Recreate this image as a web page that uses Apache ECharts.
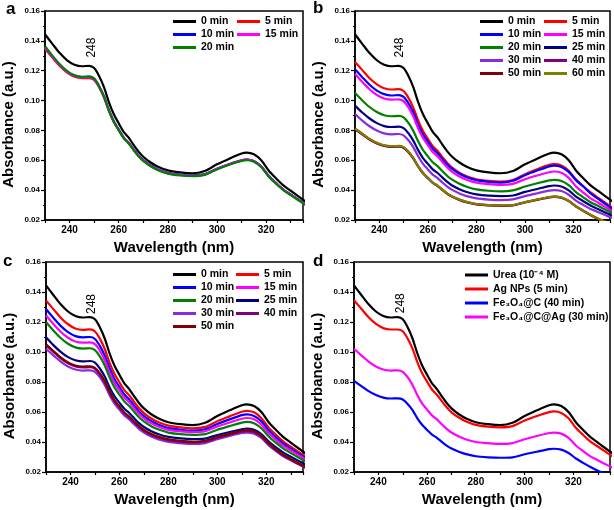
<!DOCTYPE html>
<html><head><meta charset="utf-8">
<script src="https://cdn.jsdelivr.net/npm/echarts@6/dist/echarts.min.js"></script>
<style>html,body{margin:0;padding:0;background:#fff}#c{width:614px;height:510px}</style>
</head><body><div id="c"></div><script>
// ---------- data (nm, absorbance a.u.) ----------
const wavelengths = [230,233,236,239,242,245,248,250,252,254,256,258,260,262,264,266,268,270,273,276,280,285,290,295,300,305,310,312,315,318,321,324,327,330,333,336];

const urea0 = [.1444,.1380,.1318,.1270,.1240,.1230,.1233,.1218,.1165,.1090,.0990,.0908,.0848,.0791,.0753,.0705,.0660,.0624,.0585,.0557,.0532,.0519,.0513,.0528,.0573,.0611,.0645,.0651,.0640,.0600,.0532,.0480,.0432,.0396,.0360,.0325];

// panel a
const a5  = [.1345,.1288,.1231,.1187,.1159,.1150,.1150,.1138,.1090,.1022,.0931,.0857,.0802,.0750,.0715,.0672,.0631,.0598,.0563,.0537,.0514,.0502,.0498,.0506,.0543,.0573,.0599,.0604,.0594,.0558,.0495,.0447,.0403,.0370,.0337,.0304];
const a10 = [.1358,.1296,.1239,.1194,.1167,.1158,.1160,.1147,.1098,.1029,.0937,.0862,.0807,.0754,.0719,.0675,.0634,.0601,.0565,.0539,.0516,.0504,.0499,.0507,.0544,.0574,.0600,.0605,.0595,.0559,.0496,.0448,.0404,.0371,.0338,.0306];
const a15 = [.1355,.1293,.1236,.1191,.1164,.1155,.1157,.1144,.1095,.1026,.0934,.0859,.0804,.0752,.0717,.0673,.0632,.0599,.0563,.0537,.0514,.0502,.0497,.0505,.0542,.0573,.0599,.0604,.0594,.0558,.0495,.0447,.0403,.0370,.0337,.0304];
const a20 = [.1364,.1301,.1243,.1197,.1169,.1159,.1160,.1146,.1096,.1026,.0934,.0858,.0802,.0749,.0714,.0670,.0629,.0596,.0560,.0534,.0511,.0499,.0494,.0502,.0539,.0570,.0596,.0601,.0591,.0555,.0492,.0444,.0400,.0367,.0334,.0301];

// panel b
const b5  = [.1259,.1204,.1150,.1109,.1083,.1074,.1077,.1064,.1018,.0953,.0867,.0796,.0744,.0695,.0662,.0621,.0582,.0551,.0517,.0493,.0473,.0462,.0457,.0468,.0507,.0540,.0569,.0574,.0565,.0530,.0471,.0426,.0385,.0350,.0316,.0282];
const b10 = [.1209,.1157,.1106,.1067,.1043,.1034,.1037,.1025,.0982,.0921,.0839,.0773,.0724,.0677,.0647,.0607,.0571,.0542,.0510,.0487,.0467,.0456,.0451,.0463,.0500,.0531,.0559,.0564,.0555,.0522,.0467,.0424,.0378,.0343,.0308,.0272];
const b15 = [.1178,.1125,.1076,.1037,.1014,.1006,.1008,.0996,.0954,.0894,.0815,.0749,.0702,.0656,.0626,.0588,.0552,.0523,.0492,.0470,.0450,.0440,.0435,.0442,.0473,.0498,.0520,.0525,.0516,.0482,.0425,.0384,.0345,.0317,.0288,.0260];
const b20 = [.1050,.1001,.0957,.0923,.0902,.0895,.0897,.0887,.0850,.0797,.0727,.0669,.0627,.0587,.0561,.0527,.0495,.0470,.0443,.0423,.0405,.0396,.0392,.0398,.0424,.0446,.0465,.0469,.0461,.0433,.0387,.0352,.0319,.0295,.0270,.0245];
const b25 = [.0966,.0920,.0880,.0849,.0829,.0823,.0825,.0815,.0781,.0732,.0668,.0615,.0576,.0539,.0515,.0484,.0455,.0431,.0406,.0388,.0372,.0363,.0360,.0364,.0388,.0408,.0427,.0431,.0424,.0398,.0357,.0326,.0297,.0274,.0251,.0228];
const b30 = [.0912,.0866,.0828,.0799,.0780,.0774,.0776,.0767,.0734,.0688,.0627,.0576,.0539,.0504,.0481,.0451,.0424,.0402,.0378,.0360,.0345,.0337,.0333,.0338,.0360,.0379,.0397,.0400,.0394,.0369,.0330,.0301,.0274,.0254,.0233,.0213];
const b40 = [.0808,.0773,.0739,.0713,.0696,.0690,.0691,.0683,.0654,.0613,.0558,.0513,.0480,.0449,.0428,.0401,.0376,.0356,.0335,.0319,.0305,.0298,.0295,.0298,.0318,.0335,.0352,.0355,.0349,.0327,.0290,.0261,.0233,.0208,.0188,.0170];
const b50 = [.0811,.0776,.0741,.0715,.0698,.0693,.0694,.0686,.0656,.0615,.0560,.0515,.0482,.0450,.0429,.0402,.0377,.0357,.0336,.0320,.0306,.0299,.0296,.0299,.0319,.0336,.0353,.0356,.0350,.0328,.0291,.0262,.0234,.0209,.0189,.0171];
const b60 = [.0813,.0778,.0743,.0717,.0700,.0695,.0696,.0688,.0658,.0617,.0561,.0516,.0483,.0451,.0430,.0403,.0378,.0358,.0337,.0321,.0307,.0300,.0297,.0300,.0320,.0337,.0354,.0357,.0351,.0329,.0292,.0263,.0235,.0210,.0190,.0172];

// panel c
const c5  = [.1344,.1286,.1229,.1185,.1157,.1148,.1151,.1137,.1089,.1020,.0928,.0853,.0798,.0746,.0711,.0667,.0626,.0593,.0557,.0531,.0509,.0497,.0491,.0501,.0539,.0571,.0602,.0608,.0598,.0559,.0496,.0447,.0402,.0369,.0336,.0304];
const c10 = [.1287,.1228,.1174,.1132,.1106,.1098,.1100,.1087,.1041,.0976,.0890,.0819,.0767,.0717,.0684,.0643,.0604,.0573,.0539,.0515,.0493,.0482,.0476,.0485,.0520,.0551,.0579,.0584,.0574,.0538,.0477,.0431,.0388,.0356,.0324,.0294];
const c15 = [.1245,.1186,.1135,.1095,.1070,.1062,.1064,.1052,.1008,.0945,.0862,.0794,.0744,.0697,.0665,.0625,.0588,.0558,.0525,.0502,.0481,.0471,.0466,.0472,.0503,.0530,.0555,.0560,.0551,.0516,.0458,.0414,.0374,.0344,.0314,.0285];
const c20 = [.1200,.1143,.1093,.1055,.1031,.1023,.1025,.1013,.0971,.0910,.0830,.0764,.0716,.0671,.0640,.0602,.0565,.0537,.0505,.0483,.0463,.0452,.0448,.0453,.0482,.0506,.0529,.0534,.0525,.0492,.0437,.0394,.0356,.0327,.0298,.0270];
const c25 = [.1098,.1046,.1001,.0966,.0945,.0937,.0940,.0929,.0890,.0836,.0764,.0705,.0662,.0621,.0593,.0559,.0526,.0500,.0472,.0452,.0434,.0424,.0420,.0423,.0447,.0467,.0485,.0490,.0482,.0453,.0403,.0364,.0329,.0302,.0276,.0250];
const c30 = [.1021,.0978,.0936,.0903,.0883,.0876,.0878,.0868,.0832,.0780,.0712,.0656,.0616,.0577,.0551,.0518,.0488,.0463,.0436,.0417,.0400,.0392,.0387,.0393,.0418,.0440,.0460,.0463,.0456,.0427,.0377,.0339,.0304,.0278,.0253,.0229];
const c40 = [.1046,.1001,.0958,.0924,.0904,.0897,.0899,.0888,.0851,.0799,.0729,.0672,.0631,.0591,.0564,.0531,.0500,.0475,.0447,.0428,.0411,.0401,.0397,.0402,.0427,.0448,.0469,.0473,.0466,.0436,.0385,.0344,.0308,.0281,.0255,.0229];
const c50 = [.1052,.1007,.0964,.0930,.0910,.0903,.0905,.0894,.0857,.0805,.0735,.0678,.0637,.0597,.0570,.0537,.0506,.0481,.0453,.0434,.0417,.0407,.0403,.0408,.0433,.0454,.0475,.0479,.0472,.0442,.0391,.0350,.0314,.0287,.0261,.0235];

const timeNames = ['0 min','5 min','10 min','15 min','20 min','25 min','30 min','40 min','50 min','60 min'];
const dNames = ['Urea (10\u207B\u2074 M)','Ag NPs (5 min)','Fe\u2083O\u2084@C (40 min)','Fe\u2083O\u2084@C@Ag (30 min)'];
const xTicks = [240,260,280,300,320];
const peakText = '248';

// ---------- styling ----------
const FONT = 'Arial, "Liberation Sans", sans-serif';
const COLORS = {'0 min':'#000000','5 min':'#ff0000','10 min':'#0000ff','15 min':'#ff00ff','20 min':'#008000',
  '25 min':'#000080','30 min':'#8a2be2','40 min':'#800080','50 min':'#800000','60 min':'#808000'};
const dColors = ['#000000','#ff0000','#0000ff','#ff00ff'];

const panels = [
  {grid:{left:45,top:11,width:258,height:209}, series:[['0 min',urea0],['5 min',a5],['10 min',a10],['15 min',a15],['20 min',a20]], peak:[248.9,0.1355], letter:['a',6,10]},
  {grid:{left:355,top:11,width:255,height:209}, series:[['0 min',urea0],['5 min',b5],['10 min',b10],['15 min',b15],['20 min',b20],['25 min',b25],['30 min',b30],['40 min',b40],['50 min',b50],['60 min',b60]], peak:[248.6,0.1355], letter:['b',313,9]},
  {grid:{left:46,top:262,width:257,height:210}, series:[['0 min',urea0],['5 min',c5],['10 min',c10],['15 min',c15],['20 min',c20],['25 min',c25],['30 min',c30],['40 min',c40],['50 min',c50]], peak:[248.7,0.132], letter:['c',3,262]},
  {grid:{left:354,top:262,width:256,height:210}, series:[[dNames[0],urea0],[dNames[1],a5],[dNames[2],b40],[dNames[3],c30]], peak:[249,0.1325], letter:['d',313,262]}
];

const grid=[], xAxis=[], yAxis=[], series=[], graphic=[];
panels.forEach((p,i)=>{
  grid.push(Object.assign({show:true,borderColor:'#000',borderWidth:1.5,backgroundColor:'transparent'},p.grid));
  xAxis.push({type:'value',gridIndex:i,min:230,max:335,interval:10,
    axisLine:{show:true,onZero:false,lineStyle:{color:'#000',width:1.5}},
    axisTick:{show:true,inside:false,length:3,lineStyle:{color:'#000',width:1.2}},
    axisLabel:{formatter:v=>xTicks.indexOf(Math.round(v))>=0&&Math.abs(v-Math.round(v))<1e-6?String(Math.round(v)):'',
      fontSize:10,fontWeight:'bold',color:'#000',fontFamily:FONT,margin:5},
    splitLine:{show:false},
    name:'Wavelength (nm)',nameLocation:'middle',nameGap:20,
    nameTextStyle:{fontSize:15,fontWeight:'bold',color:'#000',fontFamily:FONT}});
  yAxis.push({type:'value',gridIndex:i,min:0.02,max:0.16,interval:0.02,
    axisLine:{show:true,onZero:false,lineStyle:{color:'#000',width:1.5}},
    axisTick:{show:true,inside:false,length:4,lineStyle:{color:'#000',width:1.2}},
    minorTick:{show:true,splitNumber:2,length:2,lineStyle:{color:'#000',width:1.2}},
    axisLabel:{formatter:v=>v.toFixed(2),fontSize:8,fontWeight:'bold',color:'#000',fontFamily:FONT,margin:5},
    splitLine:{show:false},minorSplitLine:{show:false},
    name:'Absorbance (a.u.)',nameLocation:'middle',nameGap:29,
    nameTextStyle:{fontSize:15,fontWeight:'bold',color:'#000',fontFamily:FONT,padding:[0,18,0,0]}});
  p.series.forEach(([name,vals],k)=>{
    const color = i===3 ? dColors[k] : COLORS[name];
    const s = {type:'line',name:name,xAxisIndex:i,yAxisIndex:i,color:color,
      data:wavelengths.map((w,j)=>[w,vals[j]]),
      showSymbol:false,symbol:'none',smooth:0.3,clip:true,
      lineStyle:{width:2.2,color:color},emphasis:{disabled:true},silent:true};
    if(k===0){
      s.markPoint={symbol:'circle',symbolSize:0,silent:true,
        data:[{coord:p.peak,value:peakText}],
        label:{show:true,position:'inside',formatter:peakText,rotate:90,fontSize:12,color:'#000',fontFamily:FONT}};
    }
    series.push(s);
  });
  graphic.push({type:'text',left:p.letter[1],top:p.letter[2]-9,silent:true,
    style:{text:p.letter[0],font:'bold 17px '+FONT,fill:'#000'}});
});

const legendBase = {orient:'vertical',icon:'rect',itemWidth:23,itemHeight:3,itemGap:0,padding:0,selectedMode:false,
  textStyle:{fontSize:10.5,fontWeight:'bold',color:'#000',fontFamily:FONT,lineHeight:13}};
const L = (data,left,top,extra)=>Object.assign({},legendBase,{data,left,top},extra||{});
const legend = [
  L(['0 min','10 min','20 min'],173,15),
  L(['5 min','15 min'],237,15),
  L(['0 min','10 min','20 min','30 min','50 min'],480,15),
  L(['5 min','15 min','25 min','40 min','60 min'],544,15),
  L(['0 min','10 min','20 min','30 min','50 min'],173,268),
  L(['5 min','15 min','25 min','40 min'],236,268),
  L(dNames,465,268,{textStyle:Object.assign({},legendBase.textStyle,{lineHeight:14})})
];

const chart = echarts.init(document.getElementById('c'),null,{renderer:'canvas'});
chart.setOption({animation:false,backgroundColor:'#fff',grid,xAxis,yAxis,series,legend,graphic});
</script></body></html>
